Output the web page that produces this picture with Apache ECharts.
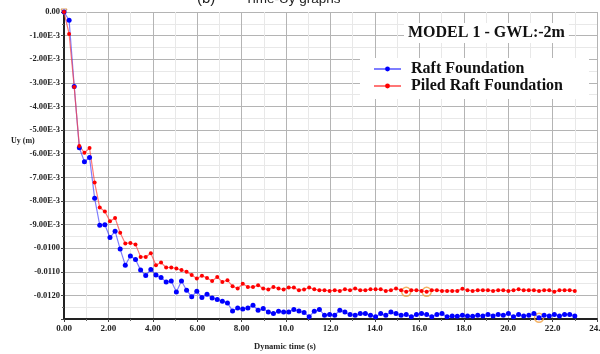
<!DOCTYPE html>
<html>
<head>
<meta charset="utf-8">
<script src="https://cdn.jsdelivr.net/npm/echarts@6/dist/echarts.min.js"></script>
<style>html,body{margin:0;padding:0;background:#fff;}#c{width:600px;height:354px;}</style>
</head>
<body>
<div id="c"></div>
<script>
const timeS = [0, 0.23, 0.46, 0.69, 0.92, 1.15, 1.38, 1.61, 1.84, 2.07, 2.30, 2.53, 2.76, 2.99, 3.22, 3.45, 3.68, 3.91, 4.14, 4.37, 4.60, 4.83, 5.06, 5.29, 5.52, 5.75, 5.98, 6.21, 6.44, 6.67, 6.90, 7.13, 7.36, 7.59, 7.82, 8.05, 8.28, 8.51, 8.74, 8.97, 9.20, 9.43, 9.66, 9.89, 10.12, 10.35, 10.58, 10.81, 11.04, 11.27, 11.50, 11.73, 11.96, 12.19, 12.42, 12.65, 12.88, 13.11, 13.34, 13.57, 13.80, 14.03, 14.26, 14.49, 14.72, 14.95, 15.18, 15.41, 15.64, 15.87, 16.10, 16.33, 16.56, 16.79, 17.02, 17.25, 17.48, 17.71, 17.94, 18.17, 18.40, 18.63, 18.86, 19.09, 19.32, 19.55, 19.78, 20.01, 20.24, 20.47, 20.70, 20.93, 21.16, 21.39, 21.62, 21.85, 22.08, 22.31, 22.54, 22.77, 23.00];

const raftUy = [0, -0.00035, -0.00315, -0.00575, -0.00634, -0.00616, -0.00789, -0.00903, -0.00901, -0.00955, -0.00928, -0.01004, -0.01072, -0.01033, -0.01048, -0.01093, -0.01116, -0.01090, -0.01114, -0.01124, -0.01143, -0.01139, -0.01186, -0.01139, -0.01178, -0.01206, -0.01182, -0.01209, -0.01195, -0.01211, -0.01217, -0.01225, -0.01232, -0.01266, -0.01253, -0.01258, -0.01253, -0.01242, -0.01263, -0.01256, -0.01270, -0.01277, -0.01267, -0.01270, -0.01270, -0.01260, -0.01266, -0.01272, -0.01291,
 -0.01267, -0.01260, -0.01284, -0.01281, -0.01284, -0.01263, -0.01270, -0.01281, -0.01284, -0.01277, -0.01277, -0.01284, -0.01291, -0.01277, -0.01284, -0.01270, -0.01277, -0.01284, -0.01281, -0.01291, -0.01281, -0.01277, -0.01281, -0.01291, -0.01281, -0.01277, -0.01291,
 -0.01287, -0.01288, -0.01284, -0.01287, -0.01288, -0.01284, -0.01287, -0.01281, -0.01287, -0.01281, -0.01284, -0.01277, -0.01291, -0.01281, -0.01287, -0.01284, -0.01277, -0.01295, -0.01284, -0.01287, -0.01281, -0.01287, -0.01281, -0.01281, -0.01287];

const piledRaftUy = [0, -0.00093, -0.00318, -0.00567, -0.00596, -0.00576, -0.00722, -0.00828, -0.00845, -0.00886, -0.00872, -0.00935, -0.00980, -0.00978, -0.00984, -0.01037, -0.01037, -0.01022, -0.01072, -0.01061, -0.01082, -0.01082, -0.01086, -0.01093, -0.01100, -0.01114, -0.01128, -0.01117, -0.01126, -0.01139, -0.01122, -0.01143, -0.01136, -0.01161, -0.01171, -0.01151, -0.01165, -0.01165, -0.01157, -0.01171, -0.01175, -0.01164, -0.01171, -0.01175, -0.01167, -0.01167, -0.01178, -0.01175, -0.01167,
 -0.01174, -0.01178, -0.01178, -0.01181, -0.01178, -0.01181, -0.01174, -0.01178, -0.01171, -0.01178, -0.01178, -0.01174, -0.01174, -0.01174, -0.01181, -0.01178, -0.01171, -0.01178, -0.01185, -0.01178, -0.01178, -0.01181, -0.01185, -0.01178, -0.01178, -0.01181, -0.01181,
 -0.01181, -0.01181, -0.01172, -0.01178, -0.01181, -0.01178, -0.01178, -0.01178, -0.01181, -0.01178, -0.01178, -0.01181, -0.01178, -0.01174, -0.01178, -0.01178, -0.01178, -0.01181, -0.01178, -0.01178, -0.01185, -0.01178, -0.01178, -0.01178, -0.01181];

const seriesNames = ['Raft Foundation', 'Piled Raft Foundation'];
const chartTitle = 'MODEL 1 - GWL:-2m';
const headerLabel = '(b)';
const headerText = 'Time-Uy graphs';
const xAxisTitle = 'Dynamic time (s)';
const yAxisTitle = 'Uy (m)';
const highlightRed = [67, 71];
const highlightBlue = [93];

const serif = '"Liberation Serif", "DejaVu Serif", serif';
const sans = '"Liberation Sans", "DejaVu Sans", sans-serif';
const pairs = (ys) => timeS.map((t, i) => [t, ys[i]]);

function yFmt(v) {
  const r = Math.round(v * 100000) / 100000;
  if (Math.abs(r) < 1e-9) return '0.00';
  if (r <= -0.0125) return '';
  if (Math.abs(r) < 0.00995) return (r * 1000).toFixed(2) + 'E-3';
  return r.toFixed(4);
}
function xFmt(v) {
  return v < 9.5 ? v.toFixed(2) : v.toFixed(1);
}

const chart = echarts.init(document.getElementById('c'), null, {renderer: 'canvas'});
chart.setOption({
  animation: false,
  backgroundColor: '#fff',
  title: {
    text: chartTitle, left: 404, top: 23,
    backgroundColor: '#fff', padding: [2, 4],
    textStyle: {fontFamily: serif, fontWeight: 'bold', fontSize: 16, color: '#111'}
  },
  legend: {
    data: seriesNames, orient: 'vertical', left: 360, top: 58,
    backgroundColor: '#fff', padding: [3, 26, 5, 13],
    itemWidth: 27, itemHeight: 6, itemGap: 1,
    textStyle: {fontFamily: serif, fontWeight: 'bold', fontSize: 16, color: '#111', padding: [0, 0, 0, 5]}
  },
  graphic: [
    {type: 'text', left: 197, top: -9, style: {text: headerLabel, font: '15px ' + sans, fill: '#222'}},
    {type: 'text', left: 245, top: -8, style: {text: headerText, font: '13.5px ' + sans, fill: '#222'}},
    {type: 'text', left: 11, top: 137, style: {text: yAxisTitle, font: 'bold 8px ' + serif, fill: '#222'}},
    {type: 'text', left: 254, top: 342, style: {text: xAxisTitle, font: 'bold 8.5px ' + serif, fill: '#222'}}
  ],
  grid: {left: 64, right: 3, top: 12, bottom: 35, outerBoundsMode: 'none', containLabel: false},
  xAxis: {
    type: 'value', min: 0, max: 24, interval: 2,
    axisLine: {show: true, onZero: false, lineStyle: {color: '#222', width: 2}},
    axisTick: {show: true, length: 3, lineStyle: {color: '#444'}},
    minorTick: {show: true, splitNumber: 2, length: 2, lineStyle: {color: '#666'}},
    splitLine: {show: true, lineStyle: {color: '#b4b4b4', width: 1}},
    minorSplitLine: {show: true, lineStyle: {color: '#e8e8e8', width: 1}},
    axisLabel: {formatter: xFmt, fontFamily: serif, fontWeight: 'bold', fontSize: 9, color: '#222', margin: 5, hideOverlap: false}
  },
  yAxis: {
    type: 'value', min: -0.013, max: 0, interval: 0.001,
    axisLine: {show: true, onZero: false, lineStyle: {color: '#222', width: 2}},
    axisTick: {show: true, length: 3, lineStyle: {color: '#444'}},
    minorTick: {show: true, splitNumber: 2, length: 2, lineStyle: {color: '#666'}},
    splitLine: {show: true, lineStyle: {color: '#b4b4b4', width: 1}},
    minorSplitLine: {show: true, lineStyle: {color: '#e8e8e8', width: 1}},
    axisLabel: {formatter: yFmt, fontFamily: serif, fontWeight: 'bold', fontSize: 8.5, color: '#222', margin: 4}
  },
  series: [
    {
      name: seriesNames[0], type: 'line', data: pairs(raftUy),
      symbol: 'circle', symbolSize: 5, showSymbol: true,
      lineStyle: {color: 'rgba(40,40,255,0.6)', width: 1.2},
      itemStyle: {color: '#0000ff'}
    },
    {
      name: seriesNames[1], type: 'line', data: pairs(piledRaftUy),
      symbol: 'circle', symbolSize: 4, showSymbol: true,
      lineStyle: {color: 'rgba(255,60,60,0.7)', width: 1.2},
      itemStyle: {color: '#ff0000'}
    },
    {
      name: 'highlight', type: 'scatter', silent: true,
      data: highlightRed.map(i => [timeS[i], piledRaftUy[i]]).concat(highlightBlue.map(i => [timeS[i], raftUy[i]])),
      symbol: 'circle', symbolSize: 9,
      itemStyle: {color: 'rgba(0,0,0,0)', borderColor: '#f0a040', borderWidth: 1.5}
    },
    {
      name: 'origin', type: 'scatter', silent: true,
      data: [[timeS[0], raftUy[0]]],
      symbol: 'triangle', symbolRotate: 180, symbolSize: 6,
      itemStyle: {color: 'rgba(0,0,0,0)', borderColor: '#d08030', borderWidth: 1}
    }
  ]
});
</script>
</body>
</html>
